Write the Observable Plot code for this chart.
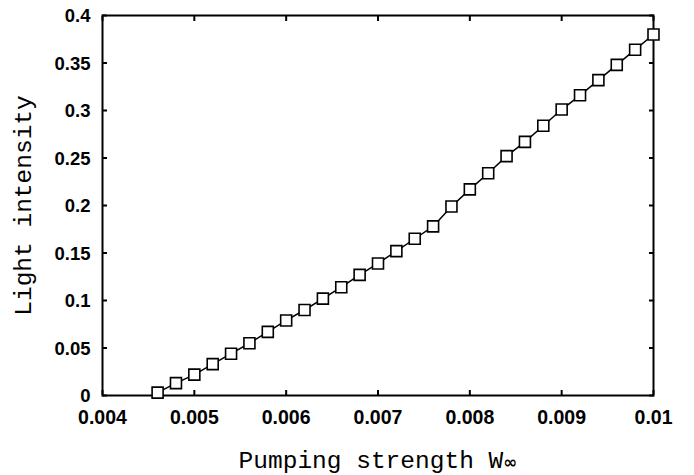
<!DOCTYPE html>
<html>
<head>
<meta charset="utf-8">
<script src="https://cdn.jsdelivr.net/npm/d3@7"></script>
<script src="https://cdn.jsdelivr.net/npm/@observablehq/plot@0.6"></script>
<style>
  html, body { margin: 0; padding: 0; background: #fff; }
  #chart svg { display: block; }
</style>
</head>
<body>
<div id="chart"></div>
<script>
// Pumping strength (W∞) and the resulting light intensity
const pumping = [0.0046, 0.0048, 0.0050, 0.0052, 0.0054, 0.0056, 0.0058, 0.0060,
                 0.0062, 0.0064, 0.0066, 0.0068, 0.0070, 0.0072, 0.0074, 0.0076,
                 0.0078, 0.0080, 0.0082, 0.0084, 0.0086, 0.0088, 0.0090, 0.0092,
                 0.0094, 0.0096, 0.0098, 0.0100];
const intensity = [0.003, 0.013, 0.022, 0.033, 0.044, 0.055, 0.067, 0.079,
                   0.090, 0.102, 0.114, 0.127, 0.139, 0.152, 0.165, 0.178,
                   0.199, 0.217, 0.234, 0.252, 0.267, 0.284, 0.301, 0.316,
                   0.332, 0.348, 0.364, 0.380];

const xTicks = [0.004, 0.005, 0.006, 0.007, 0.008, 0.009, 0.01];
const xTickLabels = ["0.004", "0.005", "0.006", "0.007", "0.008", "0.009", "0.01"];
const yTicks = [0, 0.05, 0.1, 0.15, 0.2, 0.25, 0.3, 0.35, 0.4];
const yTickLabels = ["0", "0.05", "0.1", "0.15", "0.2", "0.25", "0.3", "0.35", "0.4"];

const xTitle = "Pumping strength W∞";
const yTitle = "Light intensity";

const data = pumping.map((p, i) => ({p, v: intensity[i]}));

const sans = "Liberation Sans, Arial, sans-serif";
const mono = "Liberation Mono, Courier New, monospace";
const blank = () => "";

const plot = Plot.plot({
  width: 694,
  height: 475,
  marginLeft: 102,
  marginRight: 41,
  marginTop: 15,
  marginBottom: 80,
  style: {background: "#fff", color: "#000", overflow: "visible"},
  x: {domain: [0.004, 0.01], label: null},
  y: {domain: [0, 0.4], label: null},
  marks: [
    // inward ticks on all four sides
    Plot.axisX(xTicks, {anchor: "bottom", tickSize: -5, tickFormat: blank, strokeWidth: 2}),
    Plot.axisX(xTicks, {anchor: "top", tickSize: -5, tickFormat: blank, strokeWidth: 2}),
    Plot.axisY(yTicks, {anchor: "left", tickSize: -5, tickFormat: blank, strokeWidth: 2}),
    Plot.axisY(yTicks, {anchor: "right", tickSize: -5, tickFormat: blank, strokeWidth: 2}),
    // tick labels
    Plot.axisX(xTicks, {anchor: "bottom", tickSize: 0, tickPadding: 15,
      tickFormat: d => xTickLabels[xTicks.indexOf(d)],
      fontSize: 19.5, fontWeight: "bold", fontFamily: sans}),
    Plot.axisY(yTicks, {anchor: "left", tickSize: 0, tickPadding: 12, dy: 1,
      tickFormat: d => yTickLabels[yTicks.indexOf(d)],
      fontSize: 18.5, fontWeight: "bold", fontFamily: sans}),
    Plot.frame({stroke: "#000", strokeWidth: 2}),
    Plot.line(data, {x: "p", y: "v", stroke: "#000", strokeWidth: 1.5}),
    Plot.dot(data, {x: "p", y: "v", symbol: "square", r: 6.2, fill: "#fff", stroke: "#000", strokeWidth: 1.6}),
    // axis titles
    Plot.text([xTitle], {frameAnchor: "bottom", dy: 65, lineAnchor: "middle", textAnchor: "middle",
      text: d => d, fontFamily: mono, fontSize: 24.5, fill: "#000"}),
    Plot.text([yTitle], {frameAnchor: "left", dx: -79, rotate: -90, lineAnchor: "middle", textAnchor: "middle",
      text: d => d, fontFamily: mono, fontSize: 24.5, fill: "#000"})
  ]
});

// render the subscript-like ∞ of W∞ in a bold, smaller face
d3.select(plot).selectAll("text").each(function () {
  if (this.textContent === xTitle) {
    const t = d3.select(this);
    t.text(null);
    t.append("tspan").text("Pumping strength W");
    t.append("tspan").attr("font-weight", "bold").attr("font-family", "DejaVu Sans, sans-serif")
      .attr("font-size", 17).text("∞");
  }
});

document.getElementById("chart").appendChild(plot);
</script>
</body>
</html>
